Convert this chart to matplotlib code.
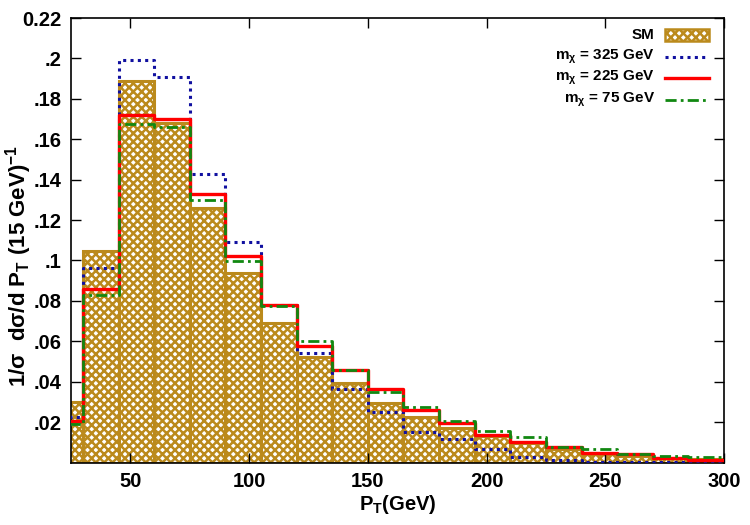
import numpy as np
import matplotlib
matplotlib.use("Agg")
import matplotlib.pyplot as plt
from matplotlib.patches import Rectangle
from matplotlib.lines import Line2D

# ---- data ----
bin_edges = [15, 30, 45, 60, 75, 90, 105, 120, 135, 150, 165, 180, 195, 210,
             225, 240, 255, 270, 285, 300]
sm = [0.0298, 0.1049, 0.189, 0.168, 0.126, 0.0937, 0.0692, 0.0521, 0.0392,
      0.0296, 0.0224, 0.0169, 0.0131, 0.0095, 0.0065, 0.0040, 0.0032, 0.0022, 0.0015]
m325 = [0.0227, 0.0961, 0.199, 0.191, 0.143, 0.109, 0.078, 0.054, 0.0362,
        0.0252, 0.0153, 0.0115, 0.0065, 0.0029, 0.0012, 0.0003, 0.0001, 0.0001, 0.0001]
m225 = [0.0207, 0.0857, 0.172, 0.170, 0.133, 0.102, 0.078, 0.0577, 0.0458,
        0.0364, 0.0258, 0.0197, 0.0136, 0.0101, 0.0075, 0.0049, 0.0041, 0.0022, 0.0012]
m75 = [0.0192, 0.0829, 0.1676, 0.166, 0.130, 0.0999, 0.0775, 0.0603, 0.0458,
       0.0351, 0.0276, 0.0205, 0.0158, 0.0125, 0.0075, 0.0068, 0.0042, 0.0034, 0.0026]
labels = ["SM", r"m$_\chi$ = 325 GeV", r"m$_\chi$ = 225 GeV", r"m$_\chi$ = 75 GeV"]
yticks = [0.02, 0.04, 0.06, 0.08, 0.10, 0.12, 0.14, 0.16, 0.18, 0.20, 0.22]
yticklabels = [".02", ".04", ".06", ".08", ".1", ".12", ".14", ".16", ".18", ".2", "0.22"]
xticks = [50, 100, 150, 200, 250, 300]

plt.rcParams.update({
    "font.family": ["Liberation Sans", "DejaVu Sans"],
    "font.weight": "bold",
    "axes.labelweight": "bold",
    "mathtext.fontset": "custom",
    "mathtext.rm": "Liberation Sans:bold",
    "mathtext.it": "Liberation Sans:bold",
    "mathtext.bf": "Liberation Sans:bold",
    "mathtext.sf": "Liberation Sans:bold",
    "mathtext.default": "rm",
    "hatch.linewidth": 1.8,
})

gold = "#bb8a1c"
blue = "#1010a0"
red = "#ff0000"
green = "#118811"
dot = (0, (1, 1.4))
dashdot = (0, (4, 1.5, 1, 1.5))

fig = plt.figure(figsize=(7.5, 5.25), dpi=100)
ax = fig.add_axes([0.0947, 0.119, 0.8706, 0.8466])

edges = np.array(bin_edges, dtype=float)
widths = np.diff(edges)
ax.bar(edges[:-1], sm, width=widths, align="edge", facecolor="white",
       edgecolor=gold, hatch="xxxx", linewidth=2.2, zorder=1)

ax.step(edges, np.append(m325, m325[-1]), where="post", color=blue,
        linestyle=dot, linewidth=2.2, zorder=3)
ax.step(edges, np.append(m225, m225[-1]), where="post", color=red,
        linewidth=2.4, zorder=4)
ax.step(edges, np.append(m75, m75[-1]), where="post", color=green,
        linestyle=dashdot, linewidth=2.0, zorder=5)

ax.set_xlim(25, 300)
ax.set_ylim(0, 0.22)
ax.set_xticks(xticks)
ax.set_xticklabels([str(v) for v in xticks])
ax.set_yticks(yticks)
ax.set_yticklabels(yticklabels)
ax.tick_params(axis="both", direction="in", length=7, width=1, labelsize=14.5,
               top=True, right=True, pad=7)
for s in ax.spines.values():
    s.set_linewidth(1.2)

ax.set_xlabel(r"P$_\mathrm{T}$(GeV)", fontsize=14.5, labelpad=1)
ax.set_ylabel(r"1/$\sigma$  d$\sigma$/d P$_\mathrm{T}$ (15 GeV)$^{-1}$", fontsize=16)
ax.yaxis.set_label_coords(-0.056, 0.442)

# ---- legend (text right-aligned, sample on the right) ----
row_y = [0.9618, 0.9123, 0.8651, 0.8155]
tx, hx0, hx1 = 0.894, 0.9096, 0.977
for i, lab in enumerate(labels):
    ax.text(tx, row_y[i], lab, transform=ax.transAxes, ha="right", va="center",
            fontsize=11, fontweight="bold", zorder=10)
box_h = 12.0 / 444.5
ax.add_patch(Rectangle((hx0, row_y[0] - box_h / 2), hx1 - hx0, box_h,
                       transform=ax.transAxes, facecolor="white", edgecolor=gold,
                       hatch="xxxx", linewidth=1.8, zorder=10))
for i, (c, ls, lw) in enumerate([(blue, dot, 2.2), (red, "-", 2.4), (green, dashdot, 2.0)]):
    ax.add_line(Line2D([hx0, hx1], [row_y[i + 1]] * 2, transform=ax.transAxes,
                       color=c, linestyle=ls, linewidth=lw, zorder=10))

fig.savefig("out.png", dpi=100)
